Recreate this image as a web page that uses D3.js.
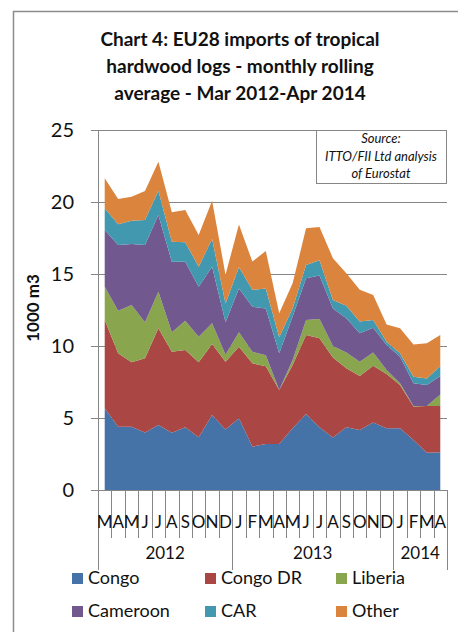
<!DOCTYPE html>
<html>
<head>
<meta charset="utf-8">
<script src="https://cdn.jsdelivr.net/npm/d3@7"></script>
<style>
  body { margin: 0; background: #fff; }
  svg { display: block; font-family: Lato, 'Open Sans', sans-serif; }
</style>
</head>
<body>
<div id="chart"></div>
<script>
// Data (thousand m3, monthly rolling average)

let months = ['M', 'A', 'M', 'J', 'J', 'A', 'S', 'O', 'N', 'D', 'J', 'F', 'M', 'A', 'M', 'J', 'J', 'A', 'S', 'O', 'N', 'D', 'J', 'F', 'M', 'A'];
let years = ['2012', '2013', '2014'];
let yearMonths = [10, 12, 4];

let congo = [5.67, 4.4, 4.4, 4.0, 4.51, 3.98, 4.35, 3.66, 5.21, 4.21, 4.98, 3.01, 3.19, 3.19, 4.28, 5.28, 4.35, 3.65, 4.35, 4.17, 4.68, 4.28, 4.28, 3.47, 2.59, 2.62];
let congoDR = [6.14, 5.09, 4.47, 5.15, 6.72, 5.62, 5.37, 5.21, 4.93, 4.69, 4.97, 5.79, 5.41, 3.75, 4.4, 5.48, 6.18, 5.55, 4.1, 3.75, 3.95, 3.78, 3.01, 2.32, 3.24, 3.21];
let liberia = [2.31, 2.96, 3.98, 2.5, 2.54, 1.35, 2.04, 1.78, 1.44, 0.5, 1.0, 0.8, 0.75, 0, 0.35, 1.04, 1.35, 0.8, 1.09, 0.99, 0.91, 0.27, 0.12, 0.04, 0, 0.81];
let cameroon = [3.94, 4.56, 4.23, 5.36, 5.33, 4.9, 4.09, 3.47, 3.93, 2.25, 3.05, 3.13, 3.25, 2.55, 3.01, 2.9, 3.02, 2.6, 2.38, 1.97, 1.73, 1.74, 1.85, 1.58, 1.46, 1.28];
let car = [1.5, 1.44, 1.62, 1.74, 1.68, 1.39, 1.35, 1.39, 1.92, 1.31, 1.47, 1.17, 1.4, 1.11, 0.58, 0.93, 1.05, 0.6, 0.88, 0.82, 0.54, 0.23, 0.23, 0.46, 0.46, 0.69];
let other = [2.09, 1.76, 1.67, 2.01, 2.02, 2.04, 2.24, 2.2, 2.66, 1.99, 2.96, 1.96, 2.6, 1.67, 1.73, 2.54, 2.32, 2.9, 2.25, 2.2, 1.73, 1.2, 1.74, 2.24, 2.44, 2.15];

let seriesNames = ['Congo', 'Congo DR', 'Liberia', 'Cameroon', 'CAR', 'Other'];
let seriesValues = [congo, congoDR, liberia, cameroon, car, other];
let colors = ['#4572A7', '#AA4643', '#89A54E', '#71588F', '#4198AF', '#DB843D'];

let yTicks = [0, 5, 10, 15, 20, 25];

// Layout

let width = 458;
let height = 632;
let plotLeft = 98, plotRight = 447, plotTop = 130, plotBottom = 490;
let gray = '#868686';

let svg = d3.select('#chart').append('svg').attr('width', width).attr('height', height);

// frame
svg.append('path')
  .attr('d', 'M13.5,640 L13.5,11.5 L470,11.5')
  .attr('fill', 'none')
  .attr('stroke', '#8c8c8c')
  .attr('stroke-width', 1.5);

// title
let titleLines = ['Chart 4: EU28 imports of tropical', 'hardwood logs - monthly rolling', 'average - Mar 2012-Apr 2014'];
svg.append('g').selectAll('text')
  .data(titleLines)
  .join('text')
  .attr('x', 240)
  .attr('y', (d, i) => 46 + i * 27)
  .attr('text-anchor', 'middle')
  .attr('font-size', 19)
  .attr('font-weight', 'bold')
  .attr('fill', '#111')
  .text(d => d);

// scales
let rows = months.map((m, i) => {
  let r = { i: i };
  seriesNames.forEach((s, k) => (r[s] = seriesValues[k][i]));
  return r;
});

let x = d3.scaleBand().domain(d3.range(months.length)).range([plotLeft, plotRight]);
let cx = i => x(i) + x.bandwidth() / 2;
let y = d3.scaleLinear().domain([0, 25]).range([plotBottom, plotTop]);

// gridlines
svg.append('g')
  .selectAll('line')
  .data(yTicks.slice(1))
  .join('line')
  .attr('x1', plotLeft)
  .attr('x2', plotRight)
  .attr('y1', d => Math.round(y(d)) + 0.5)
  .attr('y2', d => Math.round(y(d)) + 0.5)
  .attr('stroke', gray)
  .attr('stroke-width', 1);

// stacked areas
let stacked = d3.stack().keys(seriesNames)(rows);
let area = d3.area()
  .x(d => cx(d.data.i))
  .y0(d => y(d[0]))
  .y1(d => y(d[1]));

svg.append('g')
  .selectAll('path')
  .data(stacked)
  .join('path')
  .attr('d', area)
  .attr('fill', (d, k) => colors[k]);

// y axis
let yAxis = svg.append('g')
  .attr('transform', 'translate(' + plotLeft + ',0)')
  .call(d3.axisLeft(y).tickValues(yTicks).tickSize(7).tickPadding(17));
yAxis.selectAll('line, path').attr('stroke', gray);
yAxis.selectAll('text')
  .attr('font-size', 20)
  .attr('font-family', 'Lato, sans-serif')
  .attr('fill', '#111');

svg.append('text')
  .attr('transform', 'translate(39,308) rotate(-90)')
  .attr('text-anchor', 'middle')
  .attr('font-size', 17)
  .attr('font-weight', 'bold')
  .attr('fill', '#111')
  .text('1000 m3');

// x axis: month letters
let xAxis = svg.append('g');
xAxis.append('line')
  .attr('x1', plotLeft).attr('x2', plotRight)
  .attr('y1', plotBottom + 0.5).attr('y2', plotBottom + 0.5)
  .attr('stroke', gray);

xAxis.selectAll('line.sep')
  .data(d3.range(months.length + 1))
  .join('line')
  .attr('class', 'sep')
  .attr('x1', i => Math.round(i < months.length ? x(i) : plotRight) + 0.5)
  .attr('x2', i => Math.round(i < months.length ? x(i) : plotRight) + 0.5)
  .attr('y1', plotBottom)
  .attr('y2', 538)
  .attr('stroke', gray);

xAxis.selectAll('text.month')
  .data(months)
  .join('text')
  .attr('class', 'month')
  .attr('x', (d, i) => cx(i))
  .attr('y', 528)
  .attr('text-anchor', 'middle')
  .attr('font-size', 17)
  .attr('fill', '#111')
  .text(d => d);

// x axis: years
let starts = [0];
yearMonths.forEach((n, k) => starts.push(starts[k] + n));

xAxis.selectAll('line.year')
  .data(starts)
  .join('line')
  .attr('class', 'year')
  .attr('x1', s => Math.round(s < months.length ? x(s) : plotRight) + 0.5)
  .attr('x2', s => Math.round(s < months.length ? x(s) : plotRight) + 0.5)
  .attr('y1', 538)
  .attr('y2', 570)
  .attr('stroke', gray);

xAxis.selectAll('text.year')
  .data(years)
  .join('text')
  .attr('class', 'year')
  .attr('x', (d, k) => {
    let a = x(starts[k]);
    let b = starts[k + 1] < months.length ? x(starts[k + 1]) : plotRight;
    return (a + b) / 2;
  })
  .attr('y', 559)
  .attr('text-anchor', 'middle')
  .attr('font-size', 17)
  .attr('fill', '#111')
  .text(d => d);

// source box
let src = svg.append('g');
src.append('rect')
  .attr('x', 316.5).attr('y', 130.5)
  .attr('width', 130).attr('height', 53)
  .attr('fill', '#fff')
  .attr('stroke', gray);
src.selectAll('text')
  .data(['Source:', 'ITTO/FII Ltd analysis', 'of Eurostat'])
  .join('text')
  .attr('x', 381)
  .attr('y', (d, i) => 143 + i * 17.5)
  .attr('text-anchor', 'middle')
  .attr('font-size', 13)
  .attr('font-style', 'italic')
  .attr('fill', '#111')
  .text(d => d);

// legend
let legendX = [72, 205, 336];
let legend = svg.append('g')
  .selectAll('g')
  .data(seriesNames)
  .join('g')
  .attr('transform', (d, k) => 'translate(' + legendX[k % 3] + ',' + (573 + Math.floor(k / 3) * 33) + ')');
legend.append('rect')
  .attr('width', 11).attr('height', 11)
  .attr('fill', (d, k) => colors[k]);
legend.append('text')
  .attr('x', 16)
  .attr('y', 11)
  .attr('font-size', 18)
  .attr('fill', '#111')
  .text(d => d);
</script>
</body>
</html>
